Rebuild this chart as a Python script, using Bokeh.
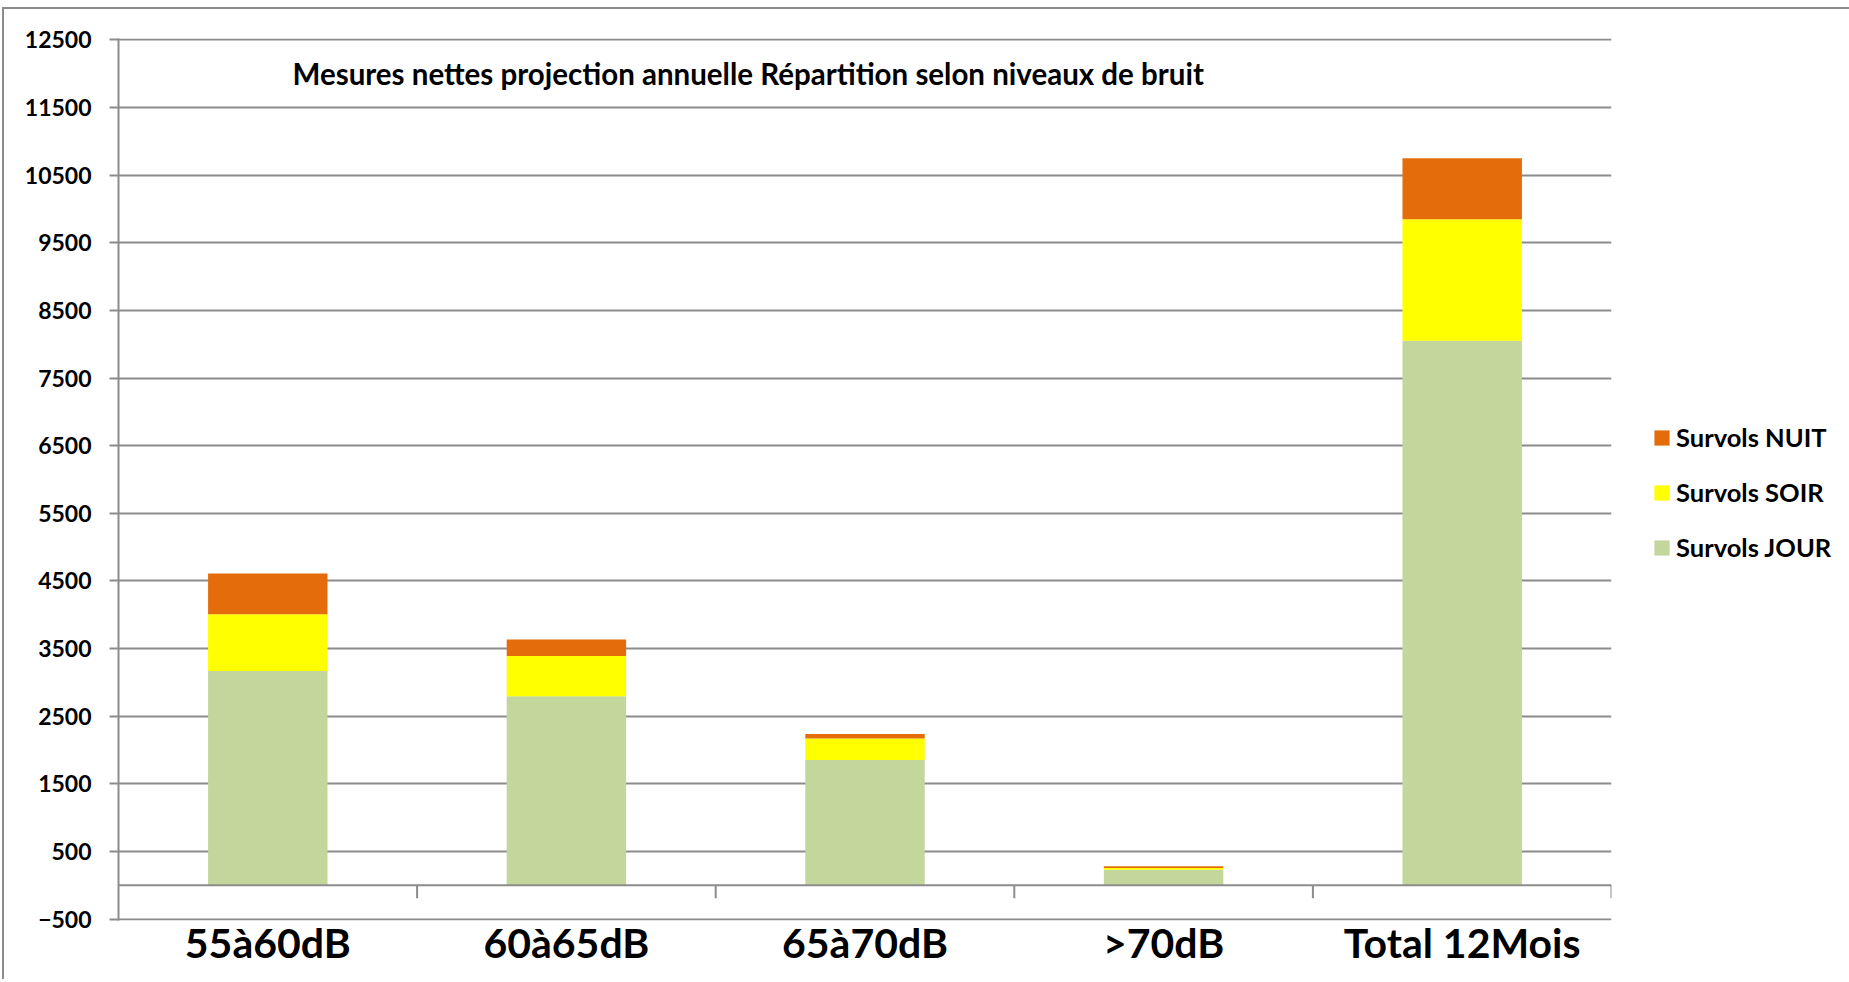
from bokeh.plotting import figure
from bokeh.models import (ColumnDataSource, Range1d, FixedTicker, Span, Label,
                          Legend, LegendItem)
from bokeh.embed import file_html
from bokeh.resources import INLINE

# ---- data ----
categories = ["55à60dB", "60à65dB", "65à70dB", ">70dB", "Total 12Mois"]
jour = [3170, 2795, 1853, 232, 8050]
soir = [838, 597, 317, 24, 1796]
nuit = [602, 242, 68, 25, 902]
series_names = ["Survols JOUR", "Survols SOIR", "Survols NUIT"]
y_ticks = [-500, 500, 1500, 2500, 3500, 4500, 5500, 6500, 7500, 8500,
           9500, 10500, 11500, 12500]
title_text = "Mesures nettes  projection annuelle Répartition selon niveaux de bruit"

colors = ["#C3D69B", "#FFFF00", "#E46C0A"]
GRID = "#8c8c8c"
FONT = "Lato"

n = len(categories)
xpos = [i + 0.5 for i in range(n)]
source = ColumnDataSource(dict(x=xpos, jour=jour, soir=soir, nuit=nuit))

p = figure(frame_width=1493, frame_height=882, output_backend="svg",
           toolbar_location=None,
           x_range=Range1d(0, n), y_range=Range1d(-520, 12520),
           min_border_left=114, min_border_right=233, min_border_top=29,
           min_border_bottom=59,
           styles={"margin-top": "7px", "margin-left": "2px",
                   "border-top": "2px solid #8c8c8c",
                   "border-left": "2px solid #8c8c8c"})
p.outline_line_color = None
p.background_fill_color = "white"
p.border_fill_color = "white"

rs = p.vbar_stack(["jour", "soir", "nuit"], x="x", width=0.40, source=source,
                  color=colors, line_color=None)

# zero line with boundary ticks
p.add_layout(Span(location=0, dimension="width", line_color=GRID, line_width=2))
bounds = [i + 1 for i in range(n)]
p.segment(x0=bounds, y0=[0] * n, x1=bounds, y1=[-190] * n,
          line_color=GRID, line_width=2)

# y axis
yax = p.yaxis[0]
yax.ticker = FixedTicker(ticks=y_ticks)
yax.axis_line_color = GRID
yax.axis_line_width = 2
yax.major_tick_line_color = GRID
yax.major_tick_line_width = 2
yax.major_tick_out = 9
yax.major_tick_in = 0
yax.minor_tick_line_color = None
yax.major_label_standoff = 18
yax.major_label_text_font = FONT
yax.major_label_text_font_style = "bold"
yax.major_label_text_font_size = "23px"
yax.major_label_text_color = "black"

# x axis
xax = p.xaxis[0]
xax.ticker = FixedTicker(ticks=xpos)
xax.major_label_overrides = {x: c for x, c in zip(xpos, categories)}
xax.axis_line_color = None
xax.major_tick_line_color = None
xax.minor_tick_line_color = None
xax.major_label_standoff = -9
xax.major_label_text_font = FONT
xax.major_label_text_font_style = "bold"
xax.major_label_text_font_size = "41px"
xax.major_label_text_color = "black"

# grid
p.xgrid.grid_line_color = None
p.ygrid.ticker = FixedTicker(ticks=y_ticks)
p.ygrid.grid_line_color = GRID
p.ygrid.grid_line_width = 2

# title inside plot area
p.add_layout(Label(x=174, y=847, x_units="screen", y_units="screen",
                   text=title_text, text_font=FONT, text_font_style="bold",
                   text_font_size="29.5px", text_color="black",
                   text_baseline="middle", text_align="left"))

# legend
items = [LegendItem(label=series_names[i], renderers=[rs[i]]) for i in (2, 1, 0)]
legend = Legend(items=items, location=(41, 358), orientation="vertical",
                glyph_width=19, glyph_height=19, label_height=30, spacing=25,
                label_standoff=5, padding=0, margin=0,
                border_line_color=None, background_fill_alpha=0,
                label_text_font=FONT, label_text_font_style="bold",
                label_text_font_size="25.5px", label_text_color="black")
p.add_layout(legend, "right")

open("out.html", "w").write(file_html(p, INLINE))
